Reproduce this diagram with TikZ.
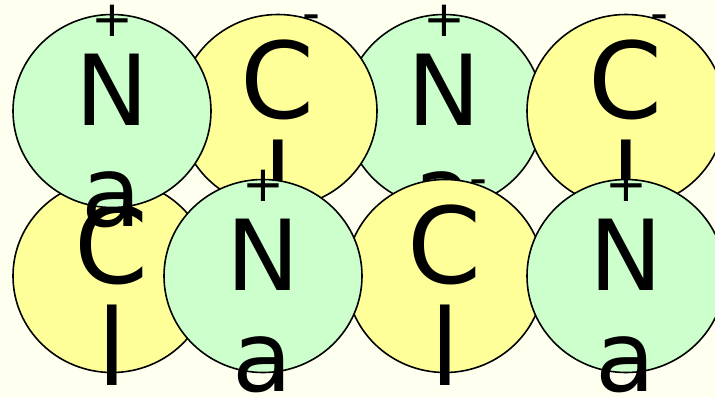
\documentclass[tikz,border=0pt]{standalone}
\usepackage{fontspec}
\setmainfont{DejaVu Sans}
\usetikzlibrary{shapes.geometric}
\definecolor{bgcol}{HTML}{FFFFF0}
\definecolor{nagreen}{HTML}{CCFFCC}
\definecolor{clyellow}{HTML}{FFFF99}
\tikzset{
  ball/.style={ellipse, draw=black, line width=1.6pt, inner sep=0pt,
    minimum width=198pt, minimum height=193pt},
  naball/.style={ball, fill=nagreen},
  clball/.style={ball, fill=clyellow},
  bigna/.style={inner sep=0pt, anchor=base, font=\fontsize{98pt}{98pt}\selectfont},
  bigcl/.style={inner sep=0pt, anchor=base, font=\fontsize{106pt}{106pt}\selectfont},
  chargesign/.style={inner sep=0pt, anchor=base, font=\fontsize{50pt}{50pt}\selectfont},
}
\newcommand{\NaIon}[3]{%
  \node[naball] (#1) at (#2,#3) {};
  \node[bigna] (#1-N) at ([yshift=-14pt]#1.center) {N};
  \node[bigna] (#1-a) at ([yshift=-115.5pt]#1.center) {a};
  \node[chargesign] (#1-s) at ([yshift=75pt]#1.center) {+};
}
\newcommand{\ClIon}[3]{%
  \node[clball] (#1) at (#2,#3) {};
  \node[bigcl] (#1-C) at ([yshift=-7.5pt]#1.center) {C};
  \node[bigcl] (#1-l) at ([yshift=-109pt]#1.center) {l};
  \node[chargesign] (#1-s) at ([xshift=34pt,yshift=80.6pt]#1.center) {-};
}
\begin{document}
\begin{tikzpicture}[x=1pt,y=-1pt]
  \useasboundingbox (0,0) rectangle (715,397);
  \fill[bgcol] (0,0) rectangle (715,397);
  \NaIon{na3}{444}{111}
  \ClIon{cl2}{278}{111}
  \ClIon{cl4}{626}{111}
  \ClIon{cl1}{112}{276}
  \ClIon{cl3}{445}{276}
  \NaIon{na1}{112}{111}
  \NaIon{na2}{263}{276}
  \NaIon{na4}{626}{276}
\end{tikzpicture}
\end{document}
